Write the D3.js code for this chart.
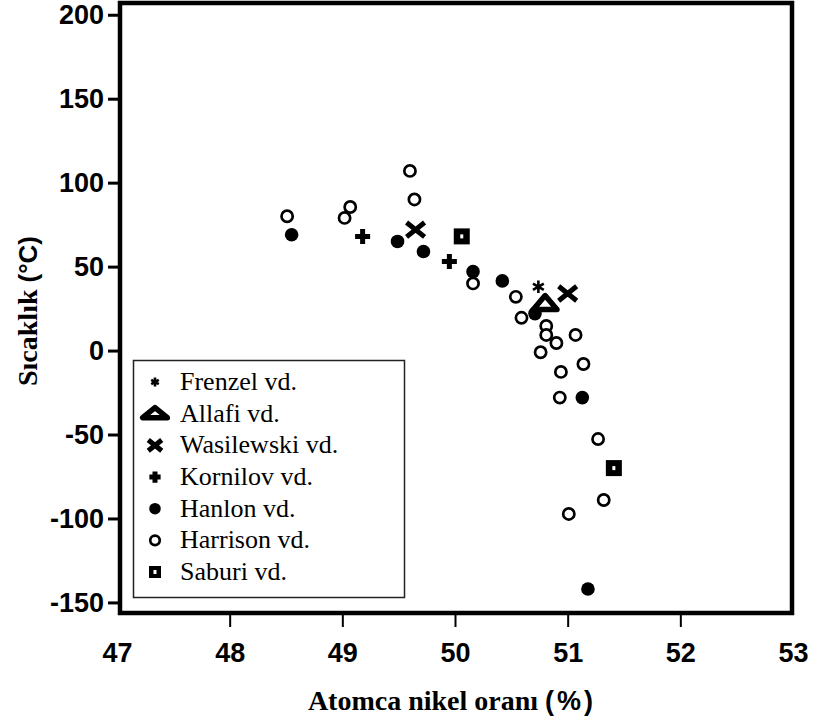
<!DOCTYPE html>
<html>
<head>
<meta charset="utf-8">
<script src="https://cdn.jsdelivr.net/npm/d3@7"></script>
<style>
  body { margin: 0; background: #fff; }
  #chart { width: 814px; height: 727px; }
  .sans { font-family: "Liberation Sans", Arial, sans-serif; font-weight: bold; }
  .serif { font-family: "Liberation Serif", "Times New Roman", serif; }
</style>
</head>
<body>
<div id="chart"></div>
<script>

// tick values
var xTicks = [47, 48, 49, 50, 51, 52, 53];
var yTicks = [-150, -100, -50, 0, 50, 100, 150, 200];

// series labels (legend order)
var seriesNames = ["Frenzel vd.", "Allafi vd.", "Wasilewski vd.", "Kornilov vd.", "Hanlon vd.", "Harrison vd.", "Saburi vd."];

// atomic Ni (%) and temperature (°C) for each study
var frenzelNi = [50.74];
var frenzelT  = [38];

var allafiNi = [50.80];
var allafiT  = [28];

var wasilewskiNi = [49.65, 51.00];
var wasilewskiT  = [72, 34];

var kornilovNi = [49.18, 49.95];
var kornilovT  = [68, 53];

var hanlonNi = [48.55, 49.49, 49.72, 50.16, 50.42, 50.71, 51.13, 51.18];
var hanlonT  = [69, 65, 59, 47, 41.5, 22, -28, -142];

var harrisonNi = [48.51, 49.07, 49.02, 49.60, 49.64, 50.16, 50.54, 50.59, 50.81, 50.81, 50.90, 51.07, 50.76, 50.94, 51.14, 50.93, 51.27, 51.32, 51.01];
var harrisonT  = [80, 85.5, 79, 107, 90, 40, 32, 19.5, 14.7, 9.3, 4.5, 9.3, -1, -12.7, -8, -28, -52.7, -89, -97.3];

var saburiNi = [50.06, 51.41];
var saburiT  = [68, -70];

var W = 814, H = 727;

var svg = d3.select("#chart")
  .append("svg")
    .attr("width", W)
    .attr("height", H);

var x = d3.scaleLinear()
  .domain([47, 53])
  .range([117, 793]);

var y = d3.scaleLinear()
  .domain([-156.3, 207])
  .range([613, 3]);

// marker drawing, one per symbol type
function marker(g, type, s, flat) {
  s = s || 1;
  if (type == "asterisk") {
    g.append("path")
      .attr("d", d3.symbol(d3.symbolAsterisk, 110 * s * s))
      .attr("fill", "none")
      .attr("stroke", "#000")
      .attr("stroke-width", 2.6);
  } else if (type == "triangle") {
    var hw = 9.5 * s, hh = flat ? 4 : 6;
    g.append("path")
      .attr("d", "M" + (-hw) + "," + hh + "L" + hw + "," + hh + "L0," + (-hh - 2) + "Z")
      .attr("fill", "#fff")
      .attr("stroke", "#000")
      .attr("stroke-width", 5.5)
      .attr("stroke-linejoin", "round");
  } else if (type == "cross") {
    var c = 9 * s;
    g.append("path")
      .attr("d", "M" + (-c) + "," + (-c * 0.8) + "L" + c + "," + (c * 0.8) + "M" + (-c) + "," + (c * 0.8) + "L" + c + "," + (-c * 0.8))
      .attr("stroke", "#000")
      .attr("stroke-width", 5);
  } else if (type == "plus") {
    var p = 7.5 * s;
    g.append("path")
      .attr("d", "M" + (-p) + ",0L" + p + ",0M0," + (-p) + "L0," + p)
      .attr("stroke", "#000")
      .attr("stroke-width", 5);
  } else if (type == "filled") {
    g.append("circle")
      .attr("r", 6.8 * s)
      .attr("fill", "#000");
  } else if (type == "open") {
    g.append("circle")
      .attr("r", 5.6 * s)
      .attr("fill", "#fff")
      .attr("stroke", "#000")
      .attr("stroke-width", 2.7);
  } else if (type == "square") {
    var q = 8 * s;
    g.append("rect")
      .attr("x", -q).attr("y", -q)
      .attr("width", 2 * q).attr("height", 2 * q)
      .attr("fill", "#000");
    g.append("rect")
      .attr("x", -1.5).attr("y", -2)
      .attr("width", 3).attr("height", 4)
      .attr("fill", "#fff");
  }
}

var series = [
  {name: seriesNames[0], type: "asterisk", ni: frenzelNi, t: frenzelT},
  {name: seriesNames[1], type: "triangle", ni: allafiNi, t: allafiT},
  {name: seriesNames[2], type: "cross", ni: wasilewskiNi, t: wasilewskiT},
  {name: seriesNames[3], type: "plus", ni: kornilovNi, t: kornilovT},
  {name: seriesNames[4], type: "filled", ni: hanlonNi, t: hanlonT},
  {name: seriesNames[5], type: "open", ni: harrisonNi, t: harrisonT},
  {name: seriesNames[6], type: "square", ni: saburiNi, t: saburiT}
];

// Add Y axis
var yAxis = svg.append("g")
  .attr("class", "sans")
  .attr("transform", "translate(118,0)")
  .call(d3.axisLeft(y).tickValues(yTicks).tickSize(10).tickPadding(4).tickFormat(function(d) { return String(d); }));
yAxis.select(".domain").remove();
yAxis.selectAll(".tick line").attr("stroke-width", 3);
yAxis.selectAll(".tick text").attr("font-size", "27px").attr("fill", "#000");

// Add X axis
var xAxis = svg.append("g")
  .attr("class", "sans")
  .attr("transform", "translate(0,615)")
  .call(d3.axisBottom(x).tickValues(xTicks).tickSize(12).tickPadding(16).tickFormat(d3.format("d")));
xAxis.select(".domain").remove();
xAxis.selectAll(".tick line")
  .attr("stroke-width", 2)
  .attr("display", function(d) { return (d == 47 || d == 53) ? "none" : null; });
xAxis.selectAll(".tick text").attr("font-size", "27px").attr("fill", "#000");

// plot frame
svg.append("rect")
  .attr("x", x(47) + 3)
  .attr("y", y.range()[1])
  .attr("width", x(53) - x(47) - 4)
  .attr("height", y.range()[0] - y.range()[1])
  .attr("fill", "none")
  .attr("stroke", "#000")
  .attr("stroke-width", 4.5);

// points, drawn back to front
var drawOrder = [4, 5, 6, 3, 2, 1, 0];
drawOrder.forEach(function(i) {
  var s = series[i];
  s.ni.forEach(function(v, j) {
    var g = svg.append("g")
      .attr("transform", "translate(" + x(v) + "," + y(s.t[j]) + ")");
    marker(g, s.type, s.type == "triangle" ? 1.25 : 1);
  });
});

// legend
var legend = svg.append("g");
legend.append("rect")
  .attr("x", 133.5)
  .attr("y", 360.5)
  .attr("width", 271)
  .attr("height", 237)
  .attr("fill", "#fff")
  .attr("stroke", "#222")
  .attr("stroke-width", 1.5);

var rowY = d3.scaleLinear().domain([0, series.length - 1]).range([390, 580]);

series.forEach(function(s, i) {
  var g = legend.append("g")
    .attr("transform", "translate(155," + (rowY(i) - 8) + ")");
  if (s.type == "triangle") {
    marker(g, s.type, 1.3, true);
  } else if (s.type == "asterisk") {
    marker(g, s.type, 0.7);
  } else {
    marker(g, s.type, s.type == "filled" || s.type == "open" ? 0.85 : 0.75);
  }
  legend.append("text")
    .attr("class", "serif")
    .attr("x", 180)
    .attr("y", rowY(i))
    .attr("font-size", "26px")
    .attr("fill", "#000")
    .text(s.name);
});

// axis titles
var xt = svg.append("text")
  .attr("x", 452)
  .attr("y", 710)
  .attr("text-anchor", "middle")
  .attr("fill", "#000");
xt.append("tspan")
  .attr("class", "serif")
  .attr("font-weight", "bold")
  .attr("font-size", "28px")
  .text("Atomca nikel oranı ");
xt.append("tspan")
  .attr("class", "sans")
  .attr("font-size", "27px")
  .attr("letter-spacing", "3px")
  .text(" (%)");

var yt = svg.append("text")
  .attr("transform", "translate(37,311) rotate(-90)")
  .attr("text-anchor", "middle")
  .attr("fill", "#000");
yt.append("tspan")
  .attr("class", "serif")
  .attr("font-weight", "bold")
  .attr("font-size", "28px")
  .text("Sıcaklık ");
yt.append("tspan")
  .attr("class", "sans")
  .attr("font-size", "26px")
  .text("(°C)");

</script>
</body>
</html>
